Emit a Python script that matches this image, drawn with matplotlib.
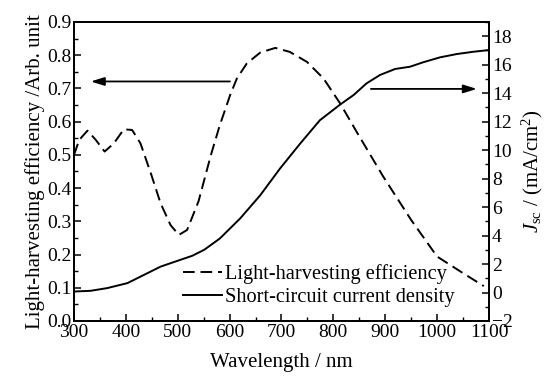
import matplotlib
matplotlib.use("Agg")
import matplotlib.pyplot as plt
from matplotlib.ticker import MultipleLocator

plt.rcParams['font.family'] = ['Liberation Serif', 'DejaVu Serif']
plt.rcParams['mathtext.fontset'] = 'custom'
plt.rcParams['mathtext.rm'] = 'Liberation Serif'
plt.rcParams['mathtext.it'] = 'Liberation Serif:italic'

# Light-harvesting efficiency (left axis)
wl_lhe = [300, 310, 326, 342, 359, 377, 396, 412, 428, 448, 467, 486, 502, 518,
          540, 564, 581, 601, 614, 633, 659, 688, 716, 749, 781, 813, 845, 896,
          950, 1000, 1050, 1090]
lhe = [0.50, 0.545, 0.573, 0.545, 0.510, 0.535, 0.577, 0.575, 0.535, 0.445,
       0.354, 0.289, 0.259, 0.274, 0.36, 0.50, 0.589, 0.680, 0.730, 0.775,
       0.808, 0.822, 0.810, 0.780, 0.730, 0.655, 0.569, 0.435, 0.304, 0.194,
       0.144, 0.105]

# Short-circuit current density in mA/cm2 (right axis)
wl_jsc = [300, 332, 364, 403, 435, 467, 499, 528, 551, 581, 620, 659, 697, 736,
          774, 813, 839, 864, 890, 919, 948, 973, 1006, 1038, 1070, 1100]
jsc = [0.07, 0.12, 0.31, 0.66, 1.24, 1.82, 2.22, 2.58, 3.0, 3.79, 5.19, 6.83,
       8.70, 10.46, 12.10, 13.2, 13.87, 14.69, 15.28, 15.70, 15.86, 16.17,
       16.52, 16.75, 16.91, 17.03]

fig = plt.figure(figsize=(5.45, 3.76), dpi=100)
ax = fig.add_axes([0.1358, 0.1463, 0.7614, 0.7952])
ax2 = ax.twinx()

l1, = ax.plot(wl_lhe, lhe, color='black', lw=1.4, dashes=(6, 3),
              label='Light-harvesting efficiency')
l2, = ax2.plot(wl_jsc, jsc, color='black', lw=1.4,
               label='Short-circuit current density')

ax.set_xlim(300, 1100)
ax.set_ylim(0, 0.9)
ax2.set_ylim(-2, 19)

ax.xaxis.set_major_locator(MultipleLocator(100))
ax.xaxis.set_minor_locator(MultipleLocator(50))
ax.yaxis.set_major_locator(MultipleLocator(0.1))
ax.yaxis.set_minor_locator(MultipleLocator(0.05))
ax2.yaxis.set_major_locator(MultipleLocator(2))
ax2.yaxis.set_minor_locator(MultipleLocator(1))
ax.yaxis.set_major_formatter(plt.FormatStrFormatter('%.1f'))

for a in (ax, ax2):
    a.tick_params(which='major', direction='in', length=5, width=1.1,
                  labelsize=14, pad=2)
    a.tick_params(which='minor', direction='in', length=3, width=1.0)
    for s in a.spines.values():
        s.set_linewidth(1.3)

ax.set_xlabel('Wavelength / nm', fontsize=15, labelpad=9)
ax.set_ylabel('Light-harvesting efficiency /Arb. unit', fontsize=15, labelpad=1)
ax2.set_ylabel(r'$J_{\rm sc}$ / (mA/cm$^2$)', fontsize=15, labelpad=5)

# arrows pointing each curve to its axis
head = '-|>,head_length=0.8,head_width=0.25'
ax.annotate('', xy=(327, 0.721), xytext=(606, 0.721),
            arrowprops=dict(arrowstyle=head, color='black', lw=1.3))
ax2.annotate('', xy=(1082, 14.3), xytext=(867, 14.3),
             arrowprops=dict(arrowstyle=head, color='black', lw=1.3))

ax.legend(handles=[l1, l2], loc='upper left', bbox_to_anchor=(0.263, 0.19),
          frameon=False, fontsize=14.7, handlelength=1.9, handletextpad=0.15,
          labelspacing=0.2, borderpad=0, borderaxespad=0)

fig.savefig('out.png', dpi=100)
